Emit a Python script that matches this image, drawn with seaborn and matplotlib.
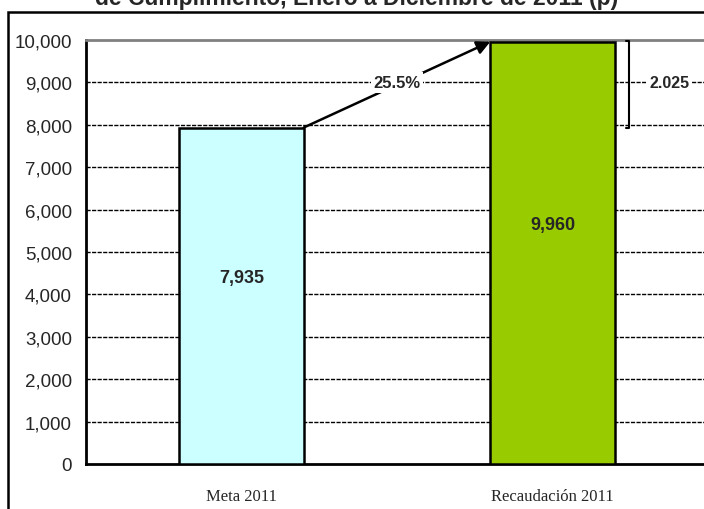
import matplotlib
matplotlib.use("Agg")
import matplotlib.pyplot as plt
from matplotlib.patches import Rectangle
import seaborn as sns

# data
categories = ["Meta 2011", "Recaudación 2011"]
values = [7935, 9960]
bar_labels = ["7,935", "9,960"]
bar_colors = ["#CCFFFF", "#99CC00"]
yticks = list(range(0, 10001, 1000))
ytick_labels = [f"{v:,}" for v in yticks]
pct_label = "25.5%"
diff_label = "2.025"
title = "de Cumplimiento, Enero a Diciembre de 2011 (p)"

sns.set_style("white")
plt.rcParams["font.family"] = ["Liberation Sans", "DejaVu Sans"]

fig = plt.figure(figsize=(7.04, 5.10), dpi=100)
ax = fig.add_axes([86 / 704, 45 / 510, 622 / 704, 424 / 510])

sns.barplot(x=categories, y=values, hue=categories, palette=bar_colors,
            saturation=1, width=0.4, edgecolor="black", linewidth=1.8,
            legend=False, ax=ax, zorder=3)

ax.set_xlim(-0.5, 1.5)
ax.set_ylim(0, 10000)
ax.set_yticks(yticks)
ax.set_yticklabels(ytick_labels, fontsize=13.5)
ax.tick_params(axis="y", length=7, width=2, color="black", pad=3)

# category labels without tick marks, tick between categories
ax.set_xticks([0, 1])
ax.set_xticklabels(categories, fontsize=12, family="Liberation Serif")
ax.tick_params(axis="x", which="major", length=0, pad=17)
ax.set_xticks([0.5], minor=True)
ax.tick_params(axis="x", which="minor", length=7, width=2, color="black")
ax.set_xlabel("")
ax.set_ylabel("")

# dashed gridlines
for v in yticks[1:-1]:
    ax.axhline(v, color="black", lw=1.0, ls=(0, (3, 1)), zorder=1)

for s in ["left", "bottom"]:
    ax.spines[s].set_color("black")
    ax.spines[s].set_linewidth(2)
ax.spines["top"].set_color("#808080")
ax.spines["top"].set_linewidth(2)
ax.spines["right"].set_visible(False)

# value labels inside bars
label_y = [4390, 5640]
for i, txt in enumerate(bar_labels):
    ax.text(i, label_y[i], txt, ha="center", va="center", fontsize=13,
            fontweight="bold", zorder=5)

# arrow from top of first bar to top of second bar
ax.annotate("", xy=(0.8, values[1]), xytext=(0.2, values[0]),
            arrowprops=dict(arrowstyle="-|>", color="black", lw=1.8,
                            mutation_scale=20, shrinkA=0, shrinkB=0),
            zorder=4)
ax.text(0.5, 9000, pct_label, ha="center", va="center", fontsize=12,
        fontweight="bold", zorder=6,
        bbox=dict(facecolor="white", edgecolor="none", pad=2))

# bracket with difference
ax.plot([1.235, 1.245, 1.245, 1.235], [values[1] + 20, values[1] + 20, values[0], values[0]],
        color="black", lw=1.5, zorder=4, clip_on=False)
ax.text(1.375, 9000, diff_label, ha="center", va="center", fontsize=11.5,
        fontweight="bold", zorder=6,
        bbox=dict(facecolor="white", edgecolor="none", pad=2))

# outer chart border (partly cropped)
fig.patches.append(Rectangle((8 / 704, -0.1), 1.2, 0.1 + (510 - 13) / 510,
                             transform=fig.transFigure, fill=False,
                             edgecolor="black", lw=1.8))

# title, cropped at top of image as in the source
fig.text(0.5065, 1 - 5.5 / 510, title, ha="center", va="baseline",
         fontsize=16.5, fontweight="bold")

fig.savefig("out.png", dpi=100)
